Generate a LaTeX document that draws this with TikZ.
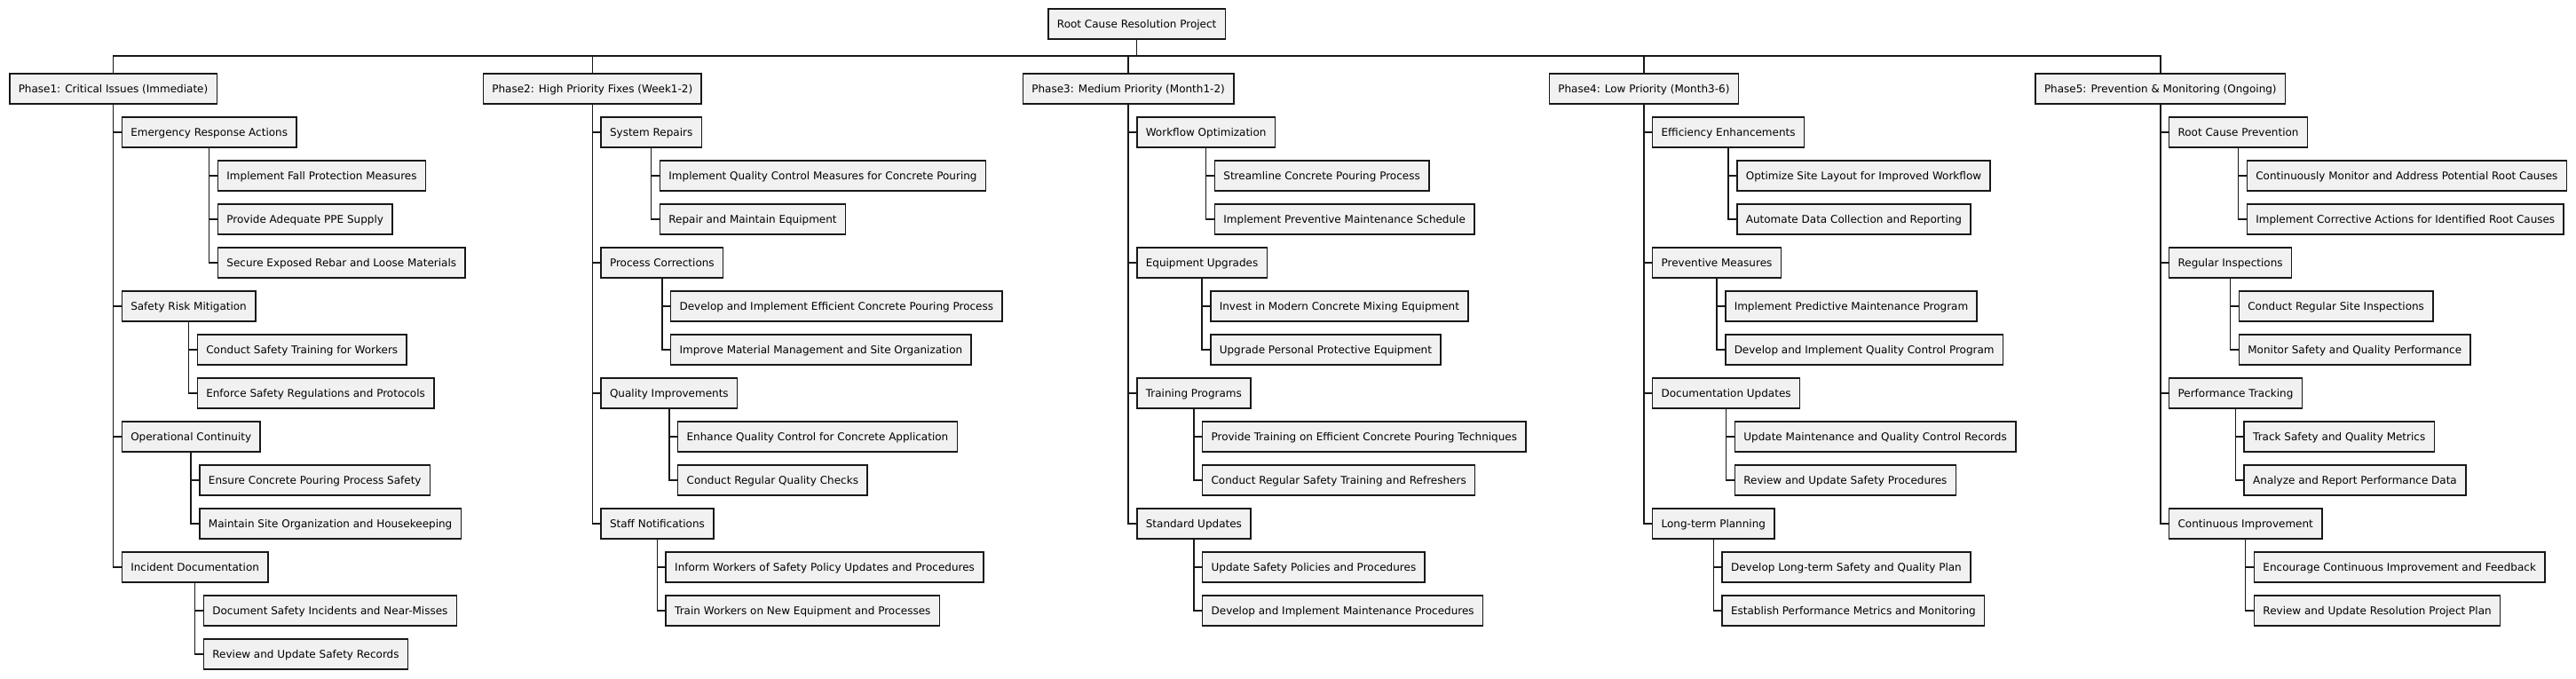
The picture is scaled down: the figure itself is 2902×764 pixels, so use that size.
\documentclass[tikz,border=0pt]{standalone}
\usepackage{fontspec}
\setmainfont{DejaVu Sans}
\usetikzlibrary{calc}
\definecolor{boxfill}{HTML}{F1F1F1}
\definecolor{lineclr}{HTML}{181818}
\tikzset{
  box/.style={draw=lineclr, fill=boxfill, line width=1.5pt, rectangle,
    inner xsep=10pt, inner ysep=0pt, minimum height=34pt,
    text height=11.1pt, text depth=2.8pt,
    font=\fontsize{12pt}{14pt}\selectfont, text=black},
  conn/.style={draw=lineclr, line width=1.5pt}
}
\newcommand{\kid}[4]{% name, parent, row, text
  \node[box, anchor=west, xshift=9pt] (#1) at (#2.south |- #3) {#4};
  \draw[conn] (#2.south) |- (#1.west);}
\begin{document}
\begin{tikzpicture}[x=1pt, y=-1pt]
\foreach \k in {0,...,13} { \coordinate (r\k) at (0,{100+49*\k}); }
\coordinate (rt) at (0,27);
\coordinate (bus) at (0,63);

% Phase 1
\begin{scope}[local bounding box=s1]
\node[box, anchor=west] (p1) at (10,100) {Phase1: Critical Issues (Immediate)};
\kid{p1a}{p1}{r1}{Emergency Response Actions}
\kid{p1a1}{p1a}{r2}{Implement Fall Protection Measures}
\kid{p1a2}{p1a}{r3}{Provide Adequate PPE Supply}
\kid{p1a3}{p1a}{r4}{Secure Exposed Rebar and Loose Materials}
\kid{p1b}{p1}{r5}{Safety Risk Mitigation}
\kid{p1b1}{p1b}{r6}{Conduct Safety Training for Workers}
\kid{p1b2}{p1b}{r7}{Enforce Safety Regulations and Protocols}
\kid{p1c}{p1}{r8}{Operational Continuity}
\kid{p1c1}{p1c}{r9}{Ensure Concrete Pouring Process Safety}
\kid{p1c2}{p1c}{r10}{Maintain Site Organization and Housekeeping}
\kid{p1d}{p1}{r11}{Incident Documentation}
\kid{p1d1}{p1d}{r12}{Document Safety Incidents and Near-Misses}
\kid{p1d2}{p1d}{r13}{Review and Update Safety Records}
\end{scope}

% Phase 2
\begin{scope}[local bounding box=s2]
\node[box, anchor=west, xshift=19.5pt] (p2) at (s1.east |- r0) {Phase2: High Priority Fixes (Week1-2)};
\kid{p2a}{p2}{r1}{System Repairs}
\kid{p2a1}{p2a}{r2}{Implement Quality Control Measures for Concrete Pouring}
\kid{p2a2}{p2a}{r3}{Repair and Maintain Equipment}
\kid{p2b}{p2}{r4}{Process Corrections}
\kid{p2b1}{p2b}{r5}{Develop and Implement Efficient Concrete Pouring Process}
\kid{p2b2}{p2b}{r6}{Improve Material Management and Site Organization}
\kid{p2c}{p2}{r7}{Quality Improvements}
\kid{p2c1}{p2c}{r8}{Enhance Quality Control for Concrete Application}
\kid{p2c2}{p2c}{r9}{Conduct Regular Quality Checks}
\kid{p2d}{p2}{r10}{Staff Notifications}
\kid{p2d1}{p2d}{r11}{Inform Workers of Safety Policy Updates and Procedures}
\kid{p2d2}{p2d}{r12}{Train Workers on New Equipment and Processes}
\end{scope}

% Phase 3
\begin{scope}[local bounding box=s3]
\node[box, anchor=west, xshift=22.5pt] (p3) at (s2.east |- r0) {Phase3: Medium Priority (Month1-2)};
\kid{p3a}{p3}{r1}{Workflow Optimization}
\kid{p3a1}{p3a}{r2}{Streamline Concrete Pouring Process}
\kid{p3a2}{p3a}{r3}{Implement Preventive Maintenance Schedule}
\kid{p3b}{p3}{r4}{Equipment Upgrades}
\kid{p3b1}{p3b}{r5}{Invest in Modern Concrete Mixing Equipment}
\kid{p3b2}{p3b}{r6}{Upgrade Personal Protective Equipment}
\kid{p3c}{p3}{r7}{Training Programs}
\kid{p3c1}{p3c}{r8}{Provide Training on Efficient Concrete Pouring Techniques}
\kid{p3c2}{p3c}{r9}{Conduct Regular Safety Training and Refreshers}
\kid{p3d}{p3}{r10}{Standard Updates}
\kid{p3d1}{p3d}{r11}{Update Safety Policies and Procedures}
\kid{p3d2}{p3d}{r12}{Develop and Implement Maintenance Procedures}
\end{scope}

% Phase 4
\begin{scope}[local bounding box=s4]
\node[box, anchor=west, xshift=25.5pt] (p4) at (s3.east |- r0) {Phase4: Low Priority (Month3-6)};
\kid{p4a}{p4}{r1}{Efficiency Enhancements}
\kid{p4a1}{p4a}{r2}{Optimize Site Layout for Improved Workflow}
\kid{p4a2}{p4a}{r3}{Automate Data Collection and Reporting}
\kid{p4b}{p4}{r4}{Preventive Measures}
\kid{p4b1}{p4b}{r5}{Implement Predictive Maintenance Program}
\kid{p4b2}{p4b}{r6}{Develop and Implement Quality Control Program}
\kid{p4c}{p4}{r7}{Documentation Updates}
\kid{p4c1}{p4c}{r8}{Update Maintenance and Quality Control Records}
\kid{p4c2}{p4c}{r9}{Review and Update Safety Procedures}
\kid{p4d}{p4}{r10}{Long-term Planning}
\kid{p4d1}{p4d}{r11}{Develop Long-term Safety and Quality Plan}
\kid{p4d2}{p4d}{r12}{Establish Performance Metrics and Monitoring}
\end{scope}

% Phase 5
\begin{scope}[local bounding box=s5]
\node[box, anchor=west, xshift=21.5pt] (p5) at (s4.east |- r0) {Phase5: Prevention \& Monitoring (Ongoing)};
\kid{p5a}{p5}{r1}{Root Cause Prevention}
\kid{p5a1}{p5a}{r2}{Continuously Monitor and Address Potential Root Causes}
\kid{p5a2}{p5a}{r3}{Implement Corrective Actions for Identified Root Causes}
\kid{p5b}{p5}{r4}{Regular Inspections}
\kid{p5b1}{p5b}{r5}{Conduct Regular Site Inspections}
\kid{p5b2}{p5b}{r6}{Monitor Safety and Quality Performance}
\kid{p5c}{p5}{r7}{Performance Tracking}
\kid{p5c1}{p5c}{r8}{Track Safety and Quality Metrics}
\kid{p5c2}{p5c}{r9}{Analyze and Report Performance Data}
\kid{p5d}{p5}{r10}{Continuous Improvement}
\kid{p5d1}{p5d}{r11}{Encourage Continuous Improvement and Feedback}
\kid{p5d2}{p5d}{r12}{Review and Update Resolution Project Plan}
\end{scope}

% Root
\path (p1.north) -- (p5.north) coordinate[pos=0.5] (mid);
\node[box] (root) at (mid |- rt) {Root Cause Resolution Project};
\draw[conn] (root.south) -- (root.south |- bus);
\draw[conn] (p1.north) -- (p1.north |- bus) -- (p5.north |- bus) -- (p5.north);
\foreach \p in {p2,p3,p4} { \draw[conn] (\p.north) -- (\p.north |- bus); }

\pgfresetboundingbox
\useasboundingbox (0,0) rectangle (2902,764);
\end{tikzpicture}
\end{document}
